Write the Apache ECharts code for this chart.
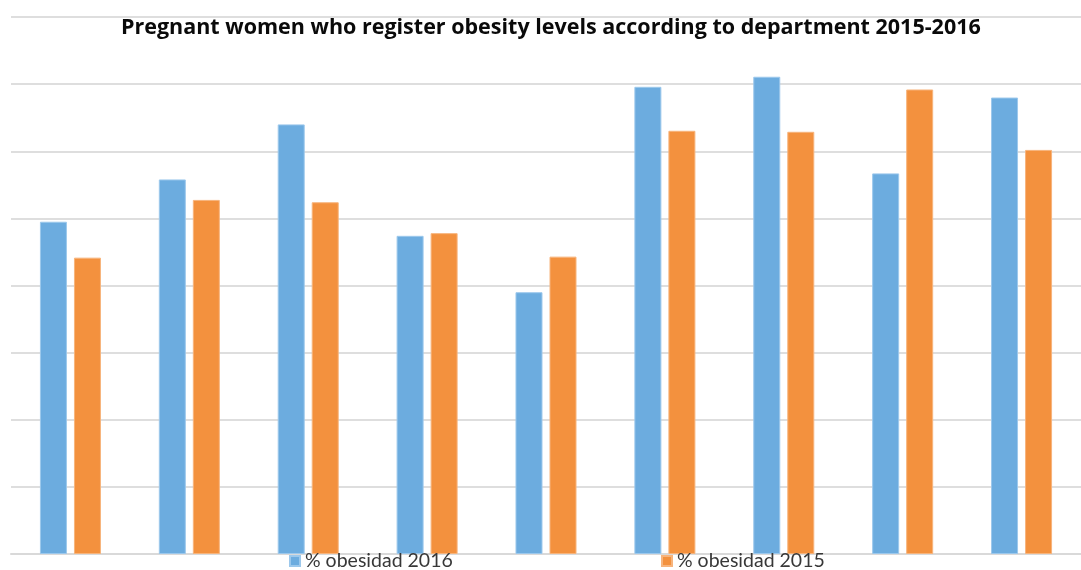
<!DOCTYPE html>
<html>
<head>
<meta charset="utf-8">
<script src="https://cdn.jsdelivr.net/npm/echarts@6/dist/echarts.min.js"></script>
<style>
  html, body { margin: 0; padding: 0; background: #ffffff; }
  #chart { width: 1081px; height: 570px; }
</style>
</head>
<body>
<div id="chart"></div>
<script>
// Departments (axis labels are not shown on the chart)
const departments = ['D1', 'D2', 'D3', 'D4', 'D5', 'D6', 'D7', 'D8', 'D9'];

// Obesity rates among pregnant women, in percent
const obesity2016 = [9.9, 11.16, 12.8, 9.48, 7.8, 13.92, 14.22, 11.34, 13.6];
const obesity2015 = [8.83, 10.55, 10.48, 9.56, 8.86, 12.61, 12.58, 13.84, 12.04];

// Value axis range (tick labels hidden)
const yMin = 0;
const yMax = 16;
const yStep = 2;

const seriesNames = ['% obesidad 2016', '% obesidad 2015'];
const colors = ['#6CACDF', '#F3913E'];

const chart = echarts.init(document.getElementById('chart'), null, { renderer: 'canvas' });

const legendText = { fontFamily: 'Lato', fontSize: 19.5, color: '#383838' };

chart.setOption({
  backgroundColor: '#ffffff',
  animation: false,
  title: {
    text: 'Pregnant women who register obesity levels according to department 2015-2016',
    left: 116,
    top: 12,
    textStyle: {
      fontFamily: 'Open Sans',
      fontWeight: 'bold',
      fontSize: 21.5,
      color: '#0a0a0a'
    }
  },
  legend: [
    {
      data: [seriesNames[0]],
      left: 284,
      top: 546,
      icon: 'rect',
      itemWidth: 10,
      itemHeight: 10,
      textStyle: legendText
    },
    {
      data: [seriesNames[1]],
      left: 656,
      top: 546,
      icon: 'rect',
      itemWidth: 10,
      itemHeight: 10,
      textStyle: legendText
    }
  ],
  grid: {
    left: 11,
    top: 17,
    width: 1083,
    bottom: 16,
    containLabel: false
  },
  xAxis: {
    type: 'category',
    data: departments,
    axisLine: { show: true, lineStyle: { color: '#d9d9d9', width: 2 } },
    axisTick: { show: false },
    axisLabel: { show: false }
  },
  yAxis: {
    type: 'value',
    min: yMin,
    max: yMax,
    interval: yStep,
    axisLine: { show: false },
    axisTick: { show: false },
    axisLabel: { show: false },
    splitLine: { show: true, lineStyle: { color: '#dedede', width: 2 } }
  },
  series: [
    {
      name: seriesNames[0],
      type: 'bar',
      data: obesity2016,
      barWidth: 27,
      barGap: '26%',
      itemStyle: { color: colors[0], borderColor: '#9cc8ec', borderWidth: 1 }
    },
    {
      name: seriesNames[1],
      type: 'bar',
      data: obesity2015,
      barWidth: 27,
      barGap: '26%',
      itemStyle: { color: colors[1], borderColor: '#f7b47c', borderWidth: 1 }
    }
  ]
});
</script>
</body>
</html>
